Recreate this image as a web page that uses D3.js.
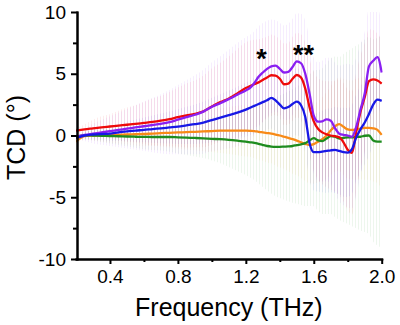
<!DOCTYPE html>
<html>
<head>
<meta charset="utf-8">
<script src="https://cdn.jsdelivr.net/npm/d3@7"></script>
<style>
  html, body { margin: 0; padding: 0; background: #fff; }
  svg { display: block; }
</style>
</head>
<body>
<svg id="chart" width="400" height="325"></svg>
<script>
// Frequency grid (THz)
const freq = [0.20,0.25,0.30,0.35,0.40,0.45,0.50,0.55,0.60,0.65,0.70,0.75,0.80,0.85,0.90,0.95,1.00,1.05,1.10,1.15,1.20,
  1.225,1.25,1.275,1.30,1.325,1.35,1.375,1.40,1.425,1.45,1.475,1.50,1.525,1.55,1.575,1.60,1.625,1.65,1.675,1.70,
  1.725,1.75,1.775,1.80,1.825,1.85,1.875,1.90,1.925,1.95,1.975,2.00];

// Mean TCD (degrees) per sample
const purpleTCD = [-0.1,0.05,0.15,0.25,0.35,0.45,0.55,0.65,0.75,0.85,0.95,1.08,1.28,1.48,1.68,1.93,2.33,2.62,2.95,3.3,3.65,
  3.85,4.25,4.75,5.1,5.4,5.6,5.65,5.4,5.1,5.15,5.55,6.0,5.85,5.0,3.4,1.6,1.12,1.15,1.3,1.2,
  0.6,0.15,0.05,0.0,-0.1,0.7,2.1,3.4,5.6,6.05,6.35,5.1];
const redTCD = [0.4,0.5,0.58,0.66,0.73,0.8,0.87,0.94,1.02,1.1,1.2,1.32,1.48,1.62,1.75,1.95,2.35,2.7,3.0,3.4,3.85,
  4.0,4.15,4.3,4.5,4.7,4.88,4.85,4.6,4.15,4.2,4.6,4.9,4.7,3.8,2.3,1.15,0.55,0.25,0.1,0.0,
  -0.05,-0.15,-0.55,-1.15,-1.4,0.3,1.9,3.1,4.4,4.55,4.45,4.2];
const blueTCD = [-0.2,0.0,0.08,0.12,0.15,0.25,0.33,0.4,0.45,0.52,0.58,0.65,0.72,0.82,0.92,1.05,1.25,1.45,1.65,1.85,2.1,
  2.25,2.4,2.55,2.7,2.85,3.05,2.85,2.5,2.2,2.3,2.55,2.74,2.45,1.5,-0.6,-1.35,-1.35,-1.3,-1.25,-1.2,
  -1.17,-1.25,-1.35,-1.38,-1.1,-0.15,0.5,1.05,1.75,2.5,2.9,2.8];
const orangeTCD = [-0.5,-0.05,0.0,0.02,0.03,0.05,0.08,0.1,0.12,0.16,0.19,0.22,0.25,0.27,0.3,0.33,0.36,0.39,0.4,0.4,0.39,
  0.38,0.36,0.3,0.25,0.2,0.15,0.08,0.0,-0.1,-0.2,-0.3,-0.42,-0.55,-0.68,-0.77,-0.7,-0.5,-0.3,0.0,0.4,
  0.75,0.92,0.7,0.5,0.45,0.5,0.55,0.62,0.62,0.58,0.45,0.05];
const greenTCD = [-0.15,0.02,0.0,-0.02,-0.04,-0.06,-0.08,-0.1,-0.11,-0.12,-0.12,-0.12,-0.15,-0.18,-0.2,-0.23,-0.27,-0.3,-0.35,-0.42,-0.5,
  -0.55,-0.6,-0.68,-0.77,-0.85,-0.9,-0.92,-0.92,-0.9,-0.88,-0.85,-0.78,-0.72,-0.62,-0.4,-0.22,-0.4,-0.45,-0.25,-0.05,
  -0.1,-0.25,-0.2,-0.15,-0.15,-0.12,-0.1,-0.02,0.0,-0.4,-0.5,-0.5];

// Standard deviations (error bars) per sample
const purpleErr = [0.2,0.5,0.8,1.0,1.2,1.4,1.6,1.8,2.0,2.2,2.4,2.6,2.8,3.0,3.2,3.4,3.6,3.8,4.0,4.2,4.3,
  4.3,4.2,4.1,4.0,3.9,3.8,3.7,3.7,3.8,3.9,3.9,3.9,4.0,4.3,4.5,4.7,4.8,4.9,5.0,5.1,
  5.3,5.5,5.7,5.8,5.8,5.6,5.3,5.0,4.7,4.3,4.0,3.8];
const redErr = [0.2,0.4,0.7,0.9,1.0,1.2,1.4,1.5,1.7,1.9,2.0,2.2,2.4,2.6,2.7,2.9,3.1,3.2,3.4,3.6,3.7,
  3.7,3.6,3.5,3.4,3.3,3.3,3.2,3.2,3.3,3.3,3.4,3.4,3.5,3.7,3.9,4.0,4.1,4.2,4.3,4.4,
  4.5,4.7,4.8,4.9,5.0,4.8,4.6,4.4,4.2,4.0,3.8,3.6];
const blueErr = [0.2,0.3,0.4,0.5,0.6,0.7,0.8,0.9,1.0,1.1,1.2,1.3,1.4,1.5,1.6,1.7,1.8,1.9,2.0,2.1,2.2,
  2.2,2.3,2.3,2.4,2.4,2.5,2.5,2.5,2.6,2.6,2.7,2.7,2.8,2.9,3.0,3.1,3.2,3.3,3.4,3.4,
  3.5,3.5,3.6,3.6,3.6,3.5,3.5,3.4,3.4,3.3,3.3,3.2];
const orangeErr = [0.3,0.3,0.4,0.5,0.6,0.7,0.8,0.9,1.0,1.0,1.1,1.2,1.3,1.4,1.5,1.6,1.7,1.8,1.9,2.0,2.1,
  2.1,2.2,2.3,2.3,2.4,2.4,2.5,2.6,2.6,2.7,2.8,2.8,2.9,3.0,3.1,3.2,3.3,3.4,3.5,3.6,
  3.7,3.8,3.9,4.0,4.0,4.1,4.1,4.2,4.2,4.3,4.3,4.4];
const greenErr = [0.1,0.3,0.4,0.5,0.6,0.7,0.8,0.9,1.0,1.05,1.1,1.2,1.3,1.4,1.5,1.6,1.75,1.95,2.2,2.45,2.7,
  2.85,3.0,3.2,3.4,3.6,3.8,4.0,4.15,4.3,4.45,4.6,4.75,4.9,5.1,5.3,5.5,5.7,5.9,6.1,6.3,
  6.5,6.6,6.8,7.0,7.2,7.4,7.6,7.8,8.0,8.2,8.4,8.6];

// Axis ticks
const xTicks = [0.4, 0.8, 1.2, 1.6, 2.0];
const xMinorTicks = [0.6, 1.0, 1.4, 1.8];
const yTicks = [-10, -5, 0, 5, 10];
const yMinorTicks = [-7.5, -2.5, 2.5, 7.5];

// Significance marks
const sigMarks = [
  { label: "*",  f: 1.292, v: 5.45 },
  { label: "**", f: 1.539, v: 5.75 }
];

const series = [
  { key: "orange", values: orangeTCD, err: orangeErr, color: "#f88a16" },
  { key: "green",  values: greenTCD,  err: greenErr,  color: "#1e8c1e" },
  { key: "red",    values: redTCD,    err: redErr,    color: "#ee0a0a" },
  { key: "purple", values: purpleTCD, err: purpleErr, color: "#8a1ff2" },
  { key: "blue",   values: blueTCD,   err: blueErr,   color: "#1818e6" }
];

const FONT = "Arial, 'Liberation Sans', Helvetica, sans-serif";

const x = d3.scaleLinear().domain([0.2, 2.0]).range([76, 381.7]);
const y = d3.scaleLinear().domain([-10, 10]).range([259, 12]);

const svg = d3.select("#chart");
const defs = svg.append("defs");

defs.append("clipPath").attr("id", "plot-clip")
  .append("rect")
  .attr("x", x(0.2)).attr("y", y(10))
  .attr("width", x(2.0) - x(0.2) + 1).attr("height", y(-10) - y(10));

// Vertical-stripe patterns that render the dense error bars
series.forEach(s => {
  const p = defs.append("pattern")
    .attr("id", "eb-" + s.key)
    .attr("patternUnits", "userSpaceOnUse")
    .attr("x", x(0.2)).attr("y", 0)
    .attr("width", 3).attr("height", 6);
  p.append("rect")
    .attr("x", 0).attr("y", 0).attr("width", 1).attr("height", 6)
    .attr("fill", s.color).attr("fill-opacity", 0.08);
});

const idx = d3.range(freq.length);
const plot = svg.append("g").attr("clip-path", "url(#plot-clip)");

// Error bands (mean ± SD)
series.forEach(s => {
  const band = d3.area()
    .x(i => x(freq[i]))
    .y0(i => y(s.values[i] - s.err[i]))
    .y1(i => y(s.values[i] + s.err[i]))
    .curve(d3.curveMonotoneX);
  plot.append("path")
    .datum(idx)
    .attr("d", band)
    .attr("fill", "url(#eb-" + s.key + ")");
});

// Mean curves
series.forEach(s => {
  const line = d3.line()
    .x(i => x(freq[i]))
    .y(i => y(s.values[i]))
    .curve(d3.curveMonotoneX);
  plot.append("path")
    .datum(idx)
    .attr("d", line)
    .attr("fill", "none")
    .attr("stroke", s.color)
    .attr("stroke-width", 2.3)
    .attr("stroke-linejoin", "round");
});

// Axes
function styleAxis(g) {
  g.attr("font-family", FONT).attr("font-size", 19);
  g.selectAll(".domain").attr("stroke", "#000").attr("stroke-width", 2).attr("stroke-linecap", "square");
  g.selectAll(".tick line").attr("stroke", "#000").attr("stroke-width", 2);
  g.selectAll(".tick text").attr("fill", "#000");
}

const xAxisY = y(-10);
const yAxisX = x(0.2) + 1;

svg.append("g")
  .attr("transform", `translate(0,${xAxisY})`)
  .call(d3.axisBottom(x).tickValues(xMinorTicks).tickSize(3).tickFormat("").tickSizeOuter(0))
  .call(styleAxis);
svg.append("g")
  .attr("transform", `translate(0,${xAxisY})`)
  .call(d3.axisBottom(x).tickValues(xTicks).tickSize(5).tickPadding(6)
    .tickFormat(d3.format(".1f")).tickSizeOuter(0))
  .call(styleAxis);

svg.append("g")
  .attr("transform", `translate(${yAxisX},0)`)
  .call(d3.axisLeft(y).tickValues(yMinorTicks).tickSize(4).tickFormat("").tickSizeOuter(0))
  .call(styleAxis);
svg.append("g")
  .attr("transform", `translate(${yAxisX},0)`)
  .call(d3.axisLeft(y).tickValues(yTicks).tickSize(6).tickPadding(5)
    .tickFormat(d => String(d)).tickSizeOuter(0))
  .call(styleAxis);

// Axis titles
svg.append("text")
  .attr("x", (x(0.2) + x(2.0)) / 2)
  .attr("y", 316)
  .attr("text-anchor", "middle")
  .attr("font-family", FONT)
  .attr("font-size", 25)
  .attr("fill", "#000")
  .text("Frequency (THz)");

svg.append("text")
  .attr("transform", `translate(25,${(y(10) + y(-10)) / 2 + 2}) rotate(-90)`)
  .attr("text-anchor", "middle")
  .attr("font-family", FONT)
  .attr("font-size", 25)
  .attr("fill", "#000")
  .text("TCD (°)");

// Significance asterisks
svg.append("g").selectAll("text")
  .data(sigMarks)
  .join("text")
  .attr("x", d => x(d.f))
  .attr("y", d => y(d.v))
  .attr("text-anchor", "middle")
  .attr("font-family", FONT)
  .attr("font-size", 27)
  .attr("font-weight", "bold")
  .attr("fill", "#000")
  .text(d => d.label);
</script>
</body>
</html>
